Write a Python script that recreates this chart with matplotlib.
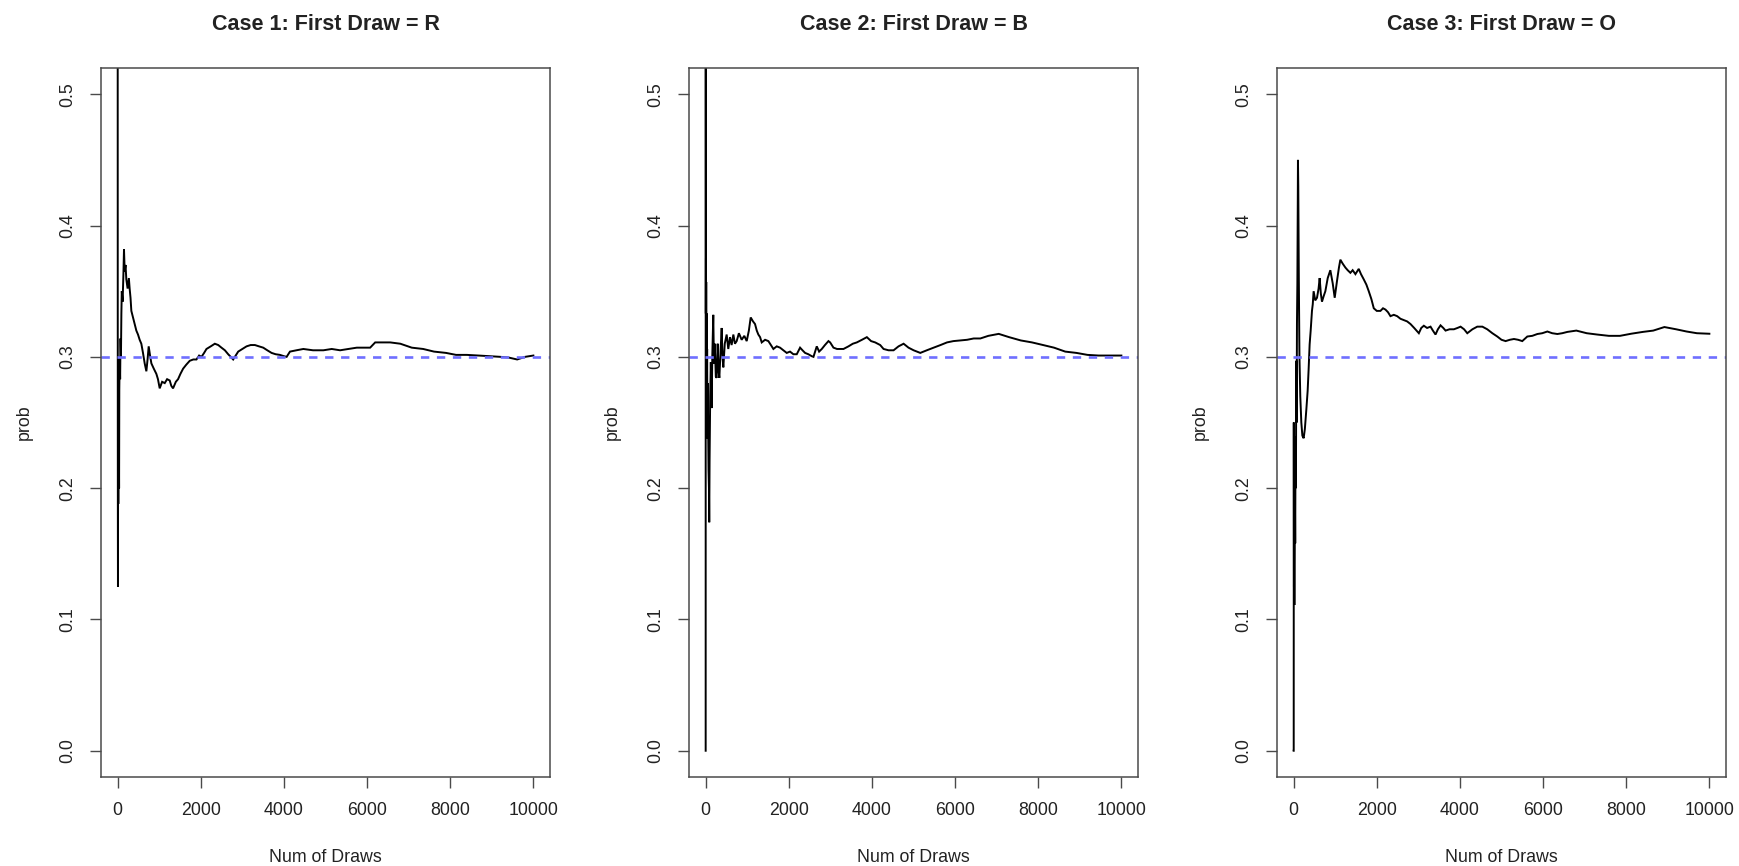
import matplotlib
matplotlib.use("Agg")
import matplotlib.pyplot as plt

plt.rcParams['font.family'] = ['Liberation Sans', 'DejaVu Sans']
plt.rcParams['lines.scale_dashes'] = False

# ---- data -------------------------------------------------------------
titles = ["Case 1: First Draw = R", "Case 2: First Draw = B", "Case 3: First Draw = O"]
target_prob = 0.3
x_ticks = [0, 2000, 4000, 6000, 8000, 10000]
y_ticks = [0.0, 0.1, 0.2, 0.3, 0.4, 0.5]
y_tick_labels = ["0.0", "0.1", "0.2", "0.3", "0.4", "0.5"]
x_label = "Num of Draws"
y_label = "prob"

draws_r = [1, 2, 3, 4, 5, 6, 7, 8, 12, 16,
           20, 25, 30, 35, 40, 50, 60, 70, 80, 90,
           100, 120, 140, 153, 170, 190, 209, 240, 270, 289,
           310, 330, 370, 410, 450, 490, 530, 570, 610, 651,
           691, 720, 747, 780, 812, 870, 932, 970, 1012, 1070,
           1133, 1190, 1253, 1290, 1333, 1400, 1454, 1510, 1575, 1650,
           1735, 1820, 1896, 1960, 2017, 2080, 2137, 2240, 2338, 2420,
           2498, 2580, 2659, 2720, 2779, 2840, 2900, 3000, 3101, 3200,
           3302, 3400, 3502, 3600, 3703, 3800, 3904, 4000, 4065, 4145,
           4300, 4467, 4700, 4949, 5150, 5351, 5550, 5753, 5900, 6074,
           6195, 6350, 6556, 6800, 7075, 7350, 7610, 7900, 8140, 8400,
           8680, 8950, 9210, 9400, 9610, 9800, 10000]
prob_r = [1.0, 0.5, 0.333, 0.25, 0.2, 0.167, 0.143, 0.125, 0.25, 0.188,
          0.25, 0.2, 0.233, 0.2, 0.275, 0.3, 0.283, 0.314, 0.3, 0.333,
          0.35, 0.342, 0.364, 0.382, 0.365, 0.37, 0.359, 0.352, 0.36, 0.352,
          0.345, 0.335, 0.33, 0.325, 0.32, 0.317, 0.313, 0.31, 0.303, 0.295,
          0.289, 0.298, 0.308, 0.301, 0.295, 0.291, 0.287, 0.283, 0.276, 0.281,
          0.280, 0.283, 0.282, 0.278, 0.276, 0.281, 0.283, 0.287, 0.291, 0.294,
          0.297, 0.298, 0.298, 0.301, 0.300, 0.303, 0.306, 0.308, 0.310, 0.309,
          0.307, 0.305, 0.302, 0.300, 0.298, 0.301, 0.304, 0.306, 0.308, 0.309,
          0.309, 0.308, 0.307, 0.305, 0.303, 0.302, 0.3015, 0.3005, 0.300, 0.304,
          0.305, 0.306, 0.305, 0.305, 0.306, 0.305, 0.306, 0.307, 0.307, 0.307,
          0.311, 0.311, 0.311, 0.310, 0.307, 0.306, 0.304, 0.303, 0.3015, 0.3015,
          0.301, 0.3005, 0.300, 0.2995, 0.298, 0.300, 0.301]

draws_b = [1, 2, 3, 4, 6, 8, 10, 14, 18, 24,
           30, 36, 42, 50, 60, 70, 80, 87, 95, 110,
           125, 145, 160, 184, 200, 220, 245, 265, 290, 310,
           330, 360, 386, 405, 426, 460, 506, 545, 586, 625,
           667, 705, 747, 800, 867, 930, 988, 1040, 1084, 1140,
           1188, 1230, 1268, 1310, 1349, 1430, 1509, 1570, 1630, 1710,
           1790, 1870, 1951, 2030, 2111, 2192, 2272, 2330, 2392, 2470,
           2553, 2594, 2673, 2730, 2794, 2870, 2954, 2995, 3075, 3160,
           3235, 3316, 3436, 3540, 3637, 3760, 3878, 3980, 4078, 4199,
           4280, 4400, 4521, 4640, 4762, 4880, 5003, 5163, 5320, 5484,
           5650, 5806, 5960, 6127, 6290, 6448, 6608, 6800, 7050, 7300,
           7580, 7850, 8117, 8380, 8650, 8920, 9185, 9450, 9700, 10000]
prob_b = [0.0, 0.5, 0.667, 0.5, 0.333, 0.375, 0.3, 0.357, 0.278, 0.333,
          0.267, 0.306, 0.238, 0.28, 0.25, 0.214, 0.2, 0.174, 0.221, 0.27,
          0.296, 0.261, 0.3, 0.332, 0.295, 0.31, 0.285, 0.284, 0.31, 0.29,
          0.284, 0.305, 0.322, 0.3, 0.292, 0.31, 0.317, 0.306, 0.315, 0.309,
          0.317, 0.31, 0.312, 0.318, 0.313, 0.316, 0.312, 0.32, 0.33, 0.327,
          0.325, 0.32, 0.317, 0.315, 0.311, 0.313, 0.312, 0.309, 0.306, 0.308,
          0.307, 0.305, 0.303, 0.304, 0.302, 0.302, 0.307, 0.305, 0.303, 0.302,
          0.3005, 0.300, 0.308, 0.304, 0.306, 0.309, 0.312, 0.311, 0.307, 0.306,
          0.306, 0.306, 0.308, 0.31, 0.311, 0.313, 0.315, 0.312, 0.311, 0.309,
          0.306, 0.305, 0.305, 0.308, 0.310, 0.307, 0.305, 0.303, 0.305, 0.307,
          0.309, 0.311, 0.312, 0.3125, 0.313, 0.314, 0.314, 0.316, 0.3175, 0.315,
          0.3125, 0.311, 0.309, 0.307, 0.304, 0.303, 0.3015, 0.301, 0.301, 0.301]

draws_o = [1, 2, 4, 8, 12, 18, 24, 30, 38, 46,
           55, 64, 72, 80, 90, 100, 104, 112, 125, 140,
           160, 185, 210, 241, 270, 306, 337, 360, 385, 410,
           441, 460, 481, 520, 562, 600, 626, 655, 682, 720,
           763, 820, 883, 940, 988, 1044, 1090, 1124, 1180, 1245,
           1300, 1365, 1420, 1486, 1566, 1620, 1687, 1750, 1807, 1870,
           1928, 2000, 2088, 2150, 2209, 2270, 2329, 2410, 2490, 2570,
           2650, 2730, 2811, 2900, 3012, 3070, 3132, 3210, 3293, 3350,
           3413, 3470, 3534, 3600, 3654, 3750, 3855, 3940, 4016, 4100,
           4177, 4300, 4417, 4540, 4657, 4780, 4898, 5000, 5099, 5200,
           5300, 5400, 5500, 5621, 5740, 5862, 5980, 6103, 6220, 6344,
           6460, 6585, 6800, 7050, 7300, 7583, 7850, 8117, 8400, 8650,
           8918, 9200, 9452, 9700, 10000]
prob_o = [0.0, 0.0, 0.25, 0.125, 0.167, 0.111, 0.167, 0.2, 0.158, 0.239,
          0.2, 0.297, 0.25, 0.325, 0.356, 0.42, 0.45, 0.43, 0.36, 0.3,
          0.27, 0.25, 0.24, 0.238, 0.245, 0.26, 0.274, 0.29, 0.3095, 0.32,
          0.335, 0.34, 0.35, 0.343, 0.345, 0.352, 0.36, 0.348, 0.342, 0.346,
          0.35, 0.36, 0.366, 0.356, 0.345, 0.358, 0.368, 0.374, 0.371, 0.368,
          0.366, 0.364, 0.366, 0.363, 0.367, 0.363, 0.359, 0.355, 0.35, 0.344,
          0.337, 0.335, 0.335, 0.337, 0.336, 0.334, 0.331, 0.332, 0.331, 0.329,
          0.328, 0.327, 0.325, 0.322, 0.318, 0.322, 0.3237, 0.322, 0.323, 0.32,
          0.317, 0.321, 0.324, 0.322, 0.320, 0.321, 0.321, 0.322, 0.323, 0.321,
          0.318, 0.321, 0.323, 0.323, 0.321, 0.318, 0.3155, 0.313, 0.312, 0.313,
          0.3136, 0.313, 0.312, 0.3155, 0.316, 0.3174, 0.318, 0.3193, 0.318, 0.3174,
          0.318, 0.319, 0.320, 0.318, 0.317, 0.316, 0.316, 0.3176, 0.319, 0.320,
          0.3227, 0.321, 0.3193, 0.318, 0.3176]

series = [(draws_r, prob_r), (draws_b, prob_b), (draws_o, prob_o)]

# ---- layout (pixels on a 1739 x 866 canvas) ---------------------------
W, H = 1739, 866
panel_left = [101, 689, 1277]
panel_w = 449
panel_top, panel_bottom = 68, 777

fig = plt.figure(figsize=(W / 100, H / 100), dpi=100)
fig.patch.set_facecolor("white")

text_col = "#222222"
frame_col = "#4a4a4a"

for left, title, (xs, ys) in zip(panel_left, titles, series):
    ax = fig.add_axes([left / W, 1 - panel_bottom / H,
                       panel_w / W, (panel_bottom - panel_top) / H])
    ax.plot(xs, ys, color="black", lw=1.4, solid_joinstyle="miter")
    ax.axhline(target_prob, color="#6f6fff", lw=1.9, dashes=(6, 5.5))

    ax.set_xlim(-400, 10400)
    ax.set_ylim(-0.02, 0.52)
    ax.set_xticks(x_ticks)
    ax.set_xticklabels([str(t) for t in x_ticks])
    ax.set_yticks(y_ticks)
    ax.set_yticklabels(y_tick_labels, rotation=90, va="center")

    ax.tick_params(axis="both", direction="out", length=8, width=1.0,
                   color=frame_col, labelsize=12.8, labelcolor=text_col)
    ax.tick_params(axis="x", pad=10)
    ax.tick_params(axis="y", pad=10)
    for sp in ax.spines.values():
        sp.set_color(frame_col)
        sp.set_linewidth(1.1)

    cx = (left + panel_w / 2) / W
    fig.text(cx, 1 - 25 / H, title, ha="center", va="center",
             fontsize=15.5, fontweight="bold", color=text_col)
    fig.text(cx, 1 - 857 / H, x_label, ha="center", va="center",
             fontsize=12.8, color=text_col)
    fig.text((left - 77) / W, 1 - ((panel_top + panel_bottom) / 2) / H, y_label,
             ha="center", va="center", rotation=90, fontsize=12.8, color=text_col)

fig.savefig("out.png", dpi=100, facecolor="white")
